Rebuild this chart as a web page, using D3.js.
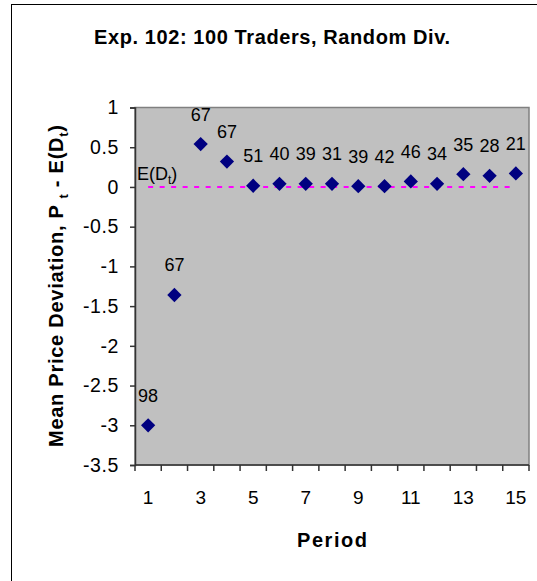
<!DOCTYPE html>
<html>
<head>
<meta charset="utf-8">
<script src="https://cdn.jsdelivr.net/npm/d3@7"></script>
<style>
  html, body { margin: 0; padding: 0; background: #fff; }
  svg { display: block; font-family: "Liberation Sans", Arial, sans-serif; }
</style>
</head>
<body>
<svg id="chart" width="537" height="581"></svg>
<script>
// Mean price deviation per trading period, with the number of trades per period
const periods = [1, 2, 3, 4, 5, 6, 7, 8, 9, 10, 11, 12, 13, 14, 15];
const deviation = [-3.0, -1.36, 0.54, 0.32, 0.015, 0.04, 0.04, 0.04, 0.01, 0.01, 0.07, 0.04, 0.16, 0.14, 0.17];
const tradeCounts = [98, 67, 67, 67, 51, 40, 39, 31, 39, 42, 46, 34, 35, 28, 21];
const expectedDividend = [0, 0, 0, 0, 0, 0, 0, 0, 0, 0, 0, 0, 0, 0, 0];
const yTicks = [1, 0.5, 0, -0.5, -1, -1.5, -2, -2.5, -3, -3.5];
const xTickLabels = [1, 3, 5, 7, 9, 11, 13, 15];

const svg = d3.select("#chart");

// chart frame
svg.append("rect")
  .attr("x", 11.5).attr("y", 4.5)
  .attr("width", 700).attr("height", 700)
  .attr("fill", "#fff").attr("stroke", "#000").attr("stroke-width", 1);

const plot = { left: 135, right: 529, top: 107.5, bottom: 465 };

const x = d3.scaleBand().domain(periods).range([plot.left, plot.right]).padding(0);
const y = d3.scaleLinear().domain([-3.5, 1]).range([plot.bottom, plot.top]);
const cx = d => x(d) + x.bandwidth() / 2;

// plot area
svg.append("rect")
  .attr("x", plot.left).attr("y", plot.top)
  .attr("width", plot.right - plot.left).attr("height", plot.bottom - plot.top)
  .attr("fill", "#c0c0c0").attr("stroke", "#808080").attr("stroke-width", 1.5);

// y axis
const yAxis = d3.axisLeft(y).tickValues(yTicks).tickSize(5).tickPadding(11)
  .tickFormat(d => String(d));
const gy = svg.append("g").attr("transform", `translate(${plot.left},0)`).call(yAxis);
gy.select(".domain").attr("stroke", "#333").attr("stroke-width", 1.5);
gy.selectAll(".tick line").attr("stroke", "#333").attr("stroke-width", 1.5);
gy.selectAll(".tick text")
  .attr("font-size", 19.5).attr("fill", "#000")
  .attr("letter-spacing", 0.6)
  .attr("font-family", "'Liberation Sans', Arial, sans-serif");

// x axis: tick marks on category boundaries, labels on odd periods
const gx = svg.append("g").attr("transform", `translate(0,${plot.bottom})`);
gx.append("line")
  .attr("x1", plot.left).attr("x2", plot.right)
  .attr("stroke", "#333").attr("stroke-width", 1.5);
const boundaries = periods.map(p => x(p)).concat([x(periods[periods.length - 1]) + x.bandwidth()]);
gx.selectAll("line.tick")
  .data(boundaries).enter().append("line")
  .attr("class", "tick")
  .attr("x1", d => d).attr("x2", d => d)
  .attr("y1", 0).attr("y2", 6)
  .attr("stroke", "#333").attr("stroke-width", 1.5);
gx.selectAll("text")
  .data(xTickLabels).enter().append("text")
  .attr("x", d => cx(d)).attr("y", 39)
  .attr("text-anchor", "middle")
  .attr("font-size", 19).attr("fill", "#000")
  .text(d => d);

// expected dividend reference line
const line = d3.line().x((d, i) => cx(periods[i])).y(d => y(d));
svg.append("path")
  .datum(expectedDividend)
  .attr("d", line)
  .attr("fill", "none")
  .attr("stroke", "#ff00ff")
  .attr("stroke-width", 2)
  .attr("stroke-dasharray", "5,6.5");

// E(D_t) label
const eLabel = svg.append("text")
  .attr("x", 137).attr("y", y(0) - 6.5)
  .attr("font-size", 18).attr("fill", "#000");
eLabel.append("tspan").text("E(D");
eLabel.append("tspan").attr("font-size", 12).attr("dy", 4).text("t");
eLabel.append("tspan").attr("dy", -4).text(")");

// diamonds
const diamond = d3.symbol().type(d3.symbolDiamond2).size(130);
svg.selectAll("path.pt")
  .data(deviation).enter().append("path")
  .attr("class", "pt")
  .attr("transform", (d, i) => `translate(${cx(periods[i])},${y(d)})`)
  .attr("d", diamond)
  .attr("fill", "#000080");

// trade-count labels
svg.selectAll("text.count")
  .data(deviation).enter().append("text")
  .attr("class", "count")
  .attr("x", (d, i) => cx(periods[i]))
  .attr("y", d => y(d) - 23.5)
  .attr("text-anchor", "middle")
  .attr("font-size", 18).attr("fill", "#000")
  .text((d, i) => tradeCounts[i]);

// title
svg.append("text")
  .attr("x", 272).attr("y", 44)
  .attr("text-anchor", "middle")
  .attr("font-size", 20).attr("font-weight", "bold")
  .attr("textLength", 356).attr("lengthAdjust", "spacing")
  .text("Exp. 102: 100 Traders, Random Div.");

// x axis title
svg.append("text")
  .attr("x", 332).attr("y", 547)
  .attr("text-anchor", "middle")
  .attr("font-size", 20).attr("font-weight", "bold")
  .attr("textLength", 70).attr("lengthAdjust", "spacing")
  .text("Period");

// y axis title
const yTitle = svg.append("text")
  .attr("transform", "translate(63,286) rotate(-90)")
  .attr("text-anchor", "middle")
  .attr("font-size", 20).attr("font-weight", "bold")
  .attr("textLength", 322).attr("lengthAdjust", "spacing");
yTitle.append("tspan").text("Mean Price Deviation, P ");
yTitle.append("tspan").attr("font-size", 13).attr("dy", 5).text("t");
yTitle.append("tspan").attr("dy", -5).text(" - E(D");
yTitle.append("tspan").attr("font-size", 13).attr("dy", 5).text("t");
yTitle.append("tspan").attr("dy", -5).text(")");
</script>
</body>
</html>
